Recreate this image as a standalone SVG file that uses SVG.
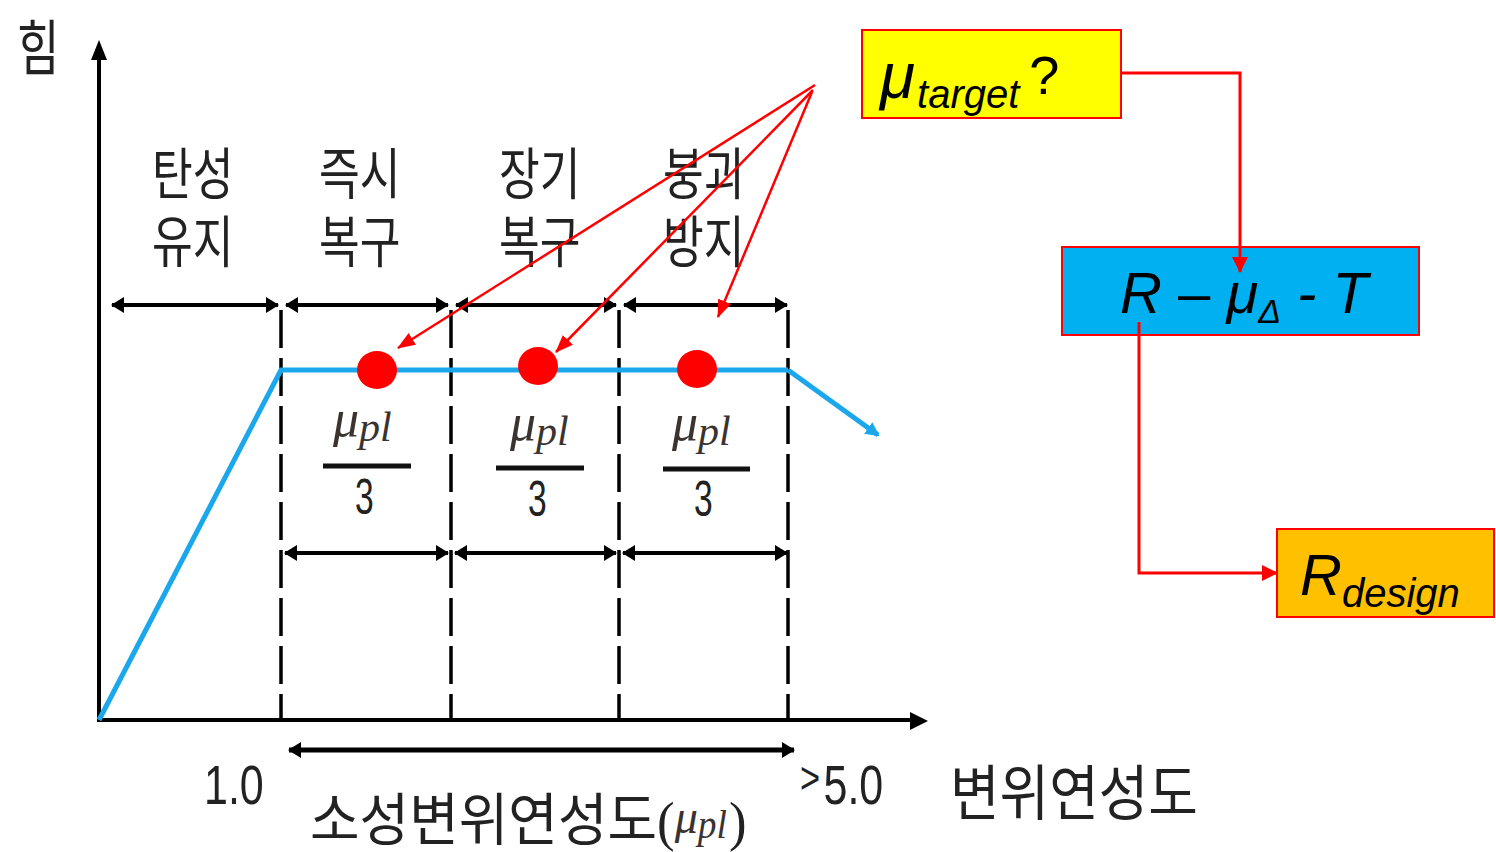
<svg xmlns="http://www.w3.org/2000/svg" width="1496" height="852" viewBox="0 0 1496 852">
<style>
.kr{font-family:"Noto Sans CJK KR","Noto Sans",sans-serif;fill:#222;}
.num{font-family:"Liberation Sans",Arial,sans-serif;fill:#222;}
.mu{font-family:"Liberation Serif","Times New Roman",serif;font-style:italic;fill:#3a3330;}
.box{stroke:#ff0000;stroke-width:2;}
.bt{font-family:"Liberation Sans",Arial,sans-serif;font-style:italic;fill:#000;}
.ax{stroke:#000;stroke-width:4;fill:none;}
.dim{stroke:#000;stroke-width:4;fill:none;marker-start:url(#bh);marker-end:url(#bh);}
.dash{stroke:#000;stroke-width:3.5;fill:none;stroke-dasharray:38 10;}
.red{stroke:#ff0000;stroke-width:2.5;fill:none;marker-end:url(#rh);}
.conn{stroke:#ff0000;stroke-width:3;fill:none;marker-end:url(#rh2);}
.blue{stroke:#1aa7ec;stroke-width:5;fill:none;}
</style>
<defs>
<marker id="bh" markerUnits="userSpaceOnUse" markerWidth="13" markerHeight="16" viewBox="0 0 13 16" refX="12" refY="8" orient="auto-start-reverse"><path d="M0,0 L13,8 L0,16 z" fill="#000"/></marker>
<marker id="rh" markerUnits="userSpaceOnUse" markerWidth="18" markerHeight="14" viewBox="0 0 18 14" refX="17" refY="7" orient="auto"><path d="M0,0 L18,7 L0,14 z" fill="#ff0000"/></marker>
<marker id="rh2" markerUnits="userSpaceOnUse" markerWidth="16" markerHeight="16" viewBox="0 0 16 16" refX="15" refY="8" orient="auto"><path d="M0,0 L16,8 L0,16 z" fill="#ff0000"/></marker>
<marker id="blh" markerUnits="userSpaceOnUse" markerWidth="14" markerHeight="14" viewBox="0 0 14 14" refX="12" refY="7" orient="auto"><path d="M0,0 L14,7 L0,14 z" fill="#1aa7ec"/></marker>
</defs>
<rect width="1496" height="852" fill="#fff"/>

<g id="graph">
  <line class="ax" x1="99" y1="722" x2="99" y2="56"/>
  <path d="M99,40 L107,60 L91,60 z" fill="#000"/>
  <line class="ax" x1="97" y1="720" x2="912" y2="720"/>
  <path d="M928,721 L910,712 L910,730 z" fill="#000"/>
  <line class="dash" x1="281" y1="310" x2="281" y2="720"/>
  <line class="dash" x1="451" y1="310" x2="451" y2="720"/>
  <line class="dash" x1="619" y1="310" x2="619" y2="720"/>
  <line class="dash" x1="788" y1="310" x2="788" y2="720"/>
  <polyline class="blue" points="99,720 281,370 788,370"/>
  <line class="blue" x1="788" y1="370" x2="878" y2="435" marker-end="url(#blh)"/>
  <ellipse cx="377" cy="370" rx="20" ry="19" fill="#ff0000"/>
  <ellipse cx="538" cy="366" rx="20" ry="19" fill="#ff0000"/>
  <ellipse cx="697" cy="369" rx="20" ry="19" fill="#ff0000"/>
</g>

<g id="dims">
  <line class="dim" x1="112" y1="305" x2="278" y2="305"/>
  <line class="dim" x1="286" y1="305" x2="448" y2="305"/>
  <line class="dim" x1="456" y1="305" x2="616" y2="305"/>
  <line class="dim" x1="624" y1="305" x2="787" y2="305"/>
  <line class="dim" x1="285" y1="553" x2="448" y2="553"/>
  <line class="dim" x1="455" y1="553" x2="616" y2="553"/>
  <line class="dim" x1="623" y1="553" x2="787" y2="553"/>
  <line class="dim" x1="289" y1="750" x2="794" y2="750" style="stroke-width:5"/>
</g>

<g id="labels">
  <text class="kr" font-size="44" transform="translate(17,70) scale(1.05,1.38)">힘</text>
  <text class="kr" font-size="41" transform="translate(152,194) scale(1.08,1.35)"><tspan x="0" y="0">탄성</tspan><tspan x="0" y="50.4">유지</tspan></text>
  <text class="kr" font-size="41" transform="translate(319,194) scale(1.08,1.35)"><tspan x="0" y="0">즉시</tspan><tspan x="0" y="50.4">복구</tspan></text>
  <text class="kr" font-size="41" transform="translate(499,194) scale(1.08,1.35)"><tspan x="0" y="0">장기</tspan><tspan x="0" y="50.4">복구</tspan></text>
  <text class="kr" font-size="41" transform="translate(663,194) scale(1.08,1.35)"><tspan x="0" y="0">붕괴</tspan><tspan x="0" y="50.4">방지</tspan></text>
</g>

<g id="fractions">
  <g id="frac1">
    <text class="mu" x="333" y="436" font-size="52">μ<tspan font-size="42" dy="5">pl</tspan></text>
    <line x1="323" y1="466" x2="411" y2="466" stroke="#111" stroke-width="5"/>
    <text class="num" font-size="42" transform="translate(355,514) scale(0.8,1.18)">3</text>
  </g>
  <g id="frac2">
    <text class="mu" x="510" y="440" font-size="52">μ<tspan font-size="42" dy="5">pl</tspan></text>
    <line x1="496" y1="468" x2="584" y2="468" stroke="#111" stroke-width="5"/>
    <text class="num" font-size="42" transform="translate(528,516) scale(0.8,1.18)">3</text>
  </g>
  <g id="frac3">
    <text class="mu" x="672" y="440" font-size="52">μ<tspan font-size="42" dy="5">pl</tspan></text>
    <line x1="663" y1="469" x2="750" y2="469" stroke="#111" stroke-width="5"/>
    <text class="num" font-size="42" transform="translate(694,516) scale(0.8,1.18)">3</text>
  </g>
</g>

<g id="axis-labels">
  <text class="num" font-size="50" transform="translate(204,804) scale(0.86,1.1)">1.0</text>
  <text class="num" font-size="50" transform="translate(800,804) scale(0.86,1.1)"><tspan font-size="40" dy="-10">&gt;</tspan><tspan dx="4" dy="10">5.0</tspan></text>
  <text class="kr" font-size="49" transform="translate(950,815) scale(1.1,1.22)">변위연성도</text>
  <text class="kr" font-size="49" transform="translate(310,840) scale(1.1,1.16)">소성변위연성도<tspan font-family="Liberation Serif" font-size="48">(</tspan><tspan class="mu" font-size="42" dy="-6">μ</tspan><tspan class="mu" font-size="34" dy="4">pl</tspan><tspan font-family="Liberation Serif" font-size="48" dx="2" dy="2">)</tspan></text>
</g>

<g id="pointers">
  <line class="red" x1="815" y1="85" x2="398" y2="348"/>
  <line class="red" x1="813" y1="90" x2="556" y2="352"/>
  <line class="red" x1="812" y1="92" x2="718" y2="317"/>
</g>

<g id="node-target">
  <rect class="box" x="862" y="30" width="259" height="88" fill="#ffff00"/>
  <text class="bt" x="880" y="98" font-size="64">μ<tspan font-size="40" dx="2" dy="10">target</tspan><tspan font-style="normal" font-size="54" dx="10" dy="-14">?</tspan></text>
</g>

<g id="node-rmut">
  <rect class="box" x="1062" y="247" width="357" height="88" fill="#00b0f0"/>
  <text class="bt" x="1120" y="313" font-size="58">R <tspan font-style="normal">–</tspan> μ<tspan font-size="34" dy="10">Δ</tspan><tspan dy="-10"> - T</tspan></text>
</g>

<g id="node-rdesign">
  <rect class="box" x="1277" y="529" width="217" height="88" fill="#ffc000"/>
  <text class="bt" x="1300" y="595" font-size="58">R<tspan font-size="40" dy="12">design</tspan></text>
</g>

<g id="connectors">
  <polyline class="conn" points="1122,73 1240,73 1240,272"/>
  <polyline class="conn" points="1139,322 1139,573 1277,573"/>
</g>
</svg>
